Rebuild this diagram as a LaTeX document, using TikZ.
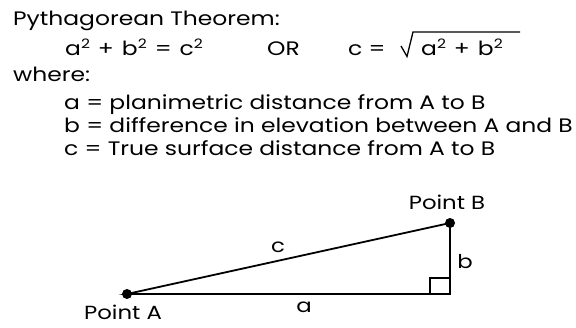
\documentclass[tikz,border=0pt]{standalone}
\usepackage{fontspec}
\setmainfont{Poppins}[FakeStretch=1.2]
\newcommand\supt[1]{\raisebox{0.4em}{\fontsize{13}{13}\selectfont #1}}
\newcommand\opsp{\hspace{8pt}}
\begin{document}
\begin{tikzpicture}[x=1pt,y=-1pt,
  txt/.style={anchor=base west,inner sep=0pt,font=\fontsize{19.5}{22}\selectfont},
  lbl/.style={inner sep=0pt,font=\fontsize{19}{22}\selectfont},
  dot/.style={circle,fill=black,inner sep=0pt,minimum size=10pt},
  edge/.style={line width=1.8pt,black}]
\useasboundingbox (0,0) rectangle (576,328);
\node[txt] (title) at (13,26) {Pythagorean Theorem:};
\node[txt] (eq1) at (65,56) {a\supt{2}\opsp+\opsp b\supt{2}\opsp=\opsp c\supt{2}};
\node[txt] (or) at (267,56) {OR};
\node[txt] (eq2) at (348,56) {c =};
\node[txt] (rad) at (421,56) {a\supt{2}\opsp+\opsp b\supt{2}};
\coordinate (barend) at (520,32);
\draw[line width=1.3pt,line join=miter] (401,46) -- (407,56.5) -- (413,32) -- (barend);
\node[txt] (where) at (13,82) {where:};
\node[txt] (da) at (64,110) {a = planimetric distance from A to B};
\node[txt] (db) at (64,133) {b = difference in elevation between A and B};
\node[txt] (dc) at (64,156) {c = True surface distance from A to B};
% triangle
\node[dot] (A) at (127,294) {};
\node[dot] (B) at (450,223) {};
\coordinate (C) at (450,294);
\draw[edge,line join=miter] (A.center) -- (C) -- (B.center) -- cycle;
\draw[line width=1.3pt] ([xshift=-20pt]C) -- ++(0,-16) -- ++(20,0);
\node[lbl,anchor=base] (pa) at (123,320) {Point A};
\node[lbl,anchor=base] (pb) at (447,210) {Point B};
\node[lbl] (lc) at (278,247) {c};
\node[lbl] (lb) at (465,262) {b};
\node[lbl] (la) at (304,307) {a};
\end{tikzpicture}
\end{document}
